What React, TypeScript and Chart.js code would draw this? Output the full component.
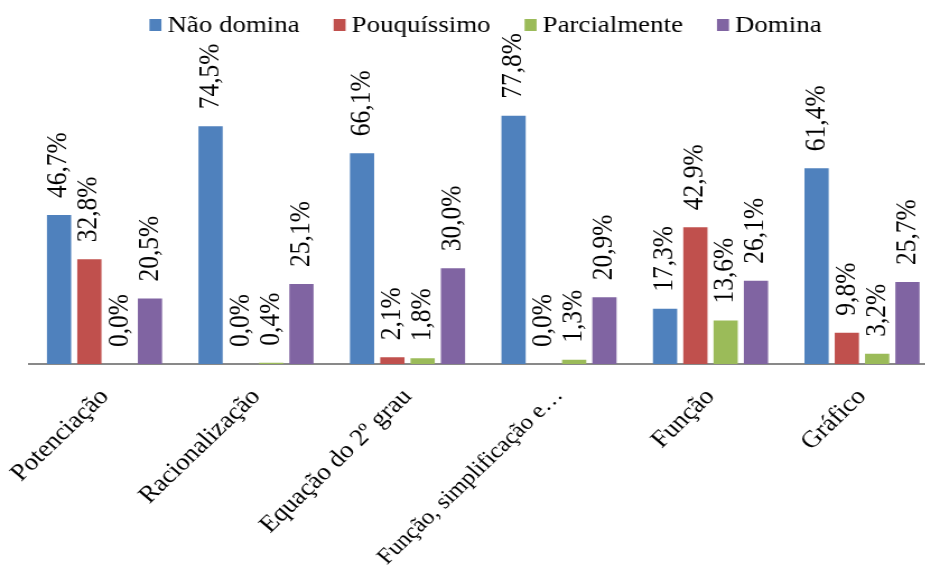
import React, { useEffect, useRef } from "react";
import { Chart, registerables } from "chart.js";

Chart.register(...registerables);

const categories = [
  "Potenciação",
  "Racionalização",
  "Equação do 2º grau",
  "Função, simplificação e…",
  "Função",
  "Gráfico",
];
const naoDomina = [46.7, 74.5, 66.1, 77.8, 17.3, 61.4];
const pouquissimo = [32.8, 0.0, 2.1, 0.0, 42.9, 9.8];
const parcialmente = [0.0, 0.4, 1.8, 1.3, 13.6, 3.2];
const domina = [20.5, 25.1, 30.0, 20.9, 26.1, 25.7];
const seriesNames = ["Não domina", "Pouquíssimo", "Parcialmente", "Domina"];
const seriesColors = ["#4F81BD", "#C0504D", "#9BBB59", "#8064A2"];

const FONT = '"Liberation Serif", "Times New Roman", serif';
// the reference picture is stretched horizontally; draw narrower and stretch via CSS
const STRETCH = 1.12;
const CSS_W = 940;
const CSS_H = 575;
const INNER_W = Math.round(CSS_W / STRETCH);

const labelPlugin = {
  id: "barLabels",
  afterDatasetsDraw(chart: any) {
    const ctx = chart.ctx;
    ctx.save();
    ctx.font = `25.5px ${FONT}`;
    ctx.fillStyle = "#000";
    ctx.textAlign = "left";
    ctx.textBaseline = "middle";
    chart.data.datasets.forEach((ds: any, i: number) => {
      const meta = chart.getDatasetMeta(i);
      meta.data.forEach((bar: any, j: number) => {
        const v = ds.data[j] as number;
        ctx.save();
        ctx.translate(bar.x, bar.y - 17);
        ctx.rotate(-Math.PI / 2);
        ctx.fillText(v.toFixed(1).replace(".", ",") + "%", 0, 0);
        ctx.restore();
      });
    });
    ctx.restore();
  },
};

const legendPlugin = {
  id: "customLegend",
  afterDraw(chart: any) {
    const ctx = chart.ctx;
    ctx.save();
    ctx.font = `24px ${FONT}`;
    const boxW = 12 / STRETCH;
    const boxH = 12;
    const gapBoxText = 6 / STRETCH;
    const gapItems = 34 / STRETCH;
    const widths = seriesNames.map((n) => ctx.measureText(n).width);
    const total =
      widths.reduce((a, b) => a + b, 0) +
      seriesNames.length * (boxW + gapBoxText) +
      (seriesNames.length - 1) * gapItems;
    const area = chart.chartArea;
    let x = (area.left + area.right) / 2 - total / 2 + 2;
    const cy = 25;
    ctx.textBaseline = "middle";
    ctx.textAlign = "left";
    seriesNames.forEach((n, i) => {
      ctx.fillStyle = seriesColors[i];
      ctx.fillRect(x, cy - boxH / 2, boxW, boxH);
      x += boxW + gapBoxText;
      ctx.fillStyle = "#000";
      ctx.fillText(n, x, cy + 1);
      x += widths[i] + gapItems;
    });
    ctx.restore();
  },
};

export default function App() {
  const ref = useRef<HTMLCanvasElement | null>(null);
  useEffect(() => {
    document.body.style.overflow = "hidden";
    const seriesData = [naoDomina, pouquissimo, parcialmente, domina];
    const chart = new Chart(ref.current as HTMLCanvasElement, {
      type: "bar",
      data: {
        labels: categories,
        datasets: seriesNames.map((name, i) => ({
          label: name,
          data: seriesData[i],
          backgroundColor: seriesColors[i],
          borderWidth: 0,
          categoryPercentage: 0.8,
          barPercentage: 0.8,
        })),
      },
      options: {
        animation: false,
        responsive: false,
        maintainAspectRatio: false,
        devicePixelRatio: 1,
        layout: {
          padding: { top: 45, left: 28.75 / STRETCH, right: 2.25 / STRETCH, bottom: 0 },
        },
        plugins: {
          legend: { display: false },
          tooltip: { enabled: false },
        },
        scales: {
          y: {
            display: false,
            min: 0,
            max: 100,
          },
          x: {
            afterFit: (s: any) => {
              s.height = 211;
              s.paddingLeft = 0;
              s.paddingRight = 0;
            },
            grid: { display: false, drawTicks: false },
            border: { display: true, color: "#898989", width: 2 },
            ticks: {
              autoSkip: false,
              maxRotation: 47,
              minRotation: 47,
              color: "#000",
              padding: 19,
              font: (c: any) => ({
                family: FONT,
                size: c.index === 3 ? 22 : 24,
              }),
            },
          },
        },
      },
      plugins: [labelPlugin, legendPlugin],
    });
    return () => chart.destroy();
  }, []);
  return (
    <div style={{ position: "fixed", left: 0, top: 0, width: CSS_W, height: CSS_H }}>
      <canvas
        ref={ref}
        width={INNER_W}
        height={CSS_H}
        style={{ width: CSS_W, height: CSS_H, display: "block" }}
      />
    </div>
  );
}
